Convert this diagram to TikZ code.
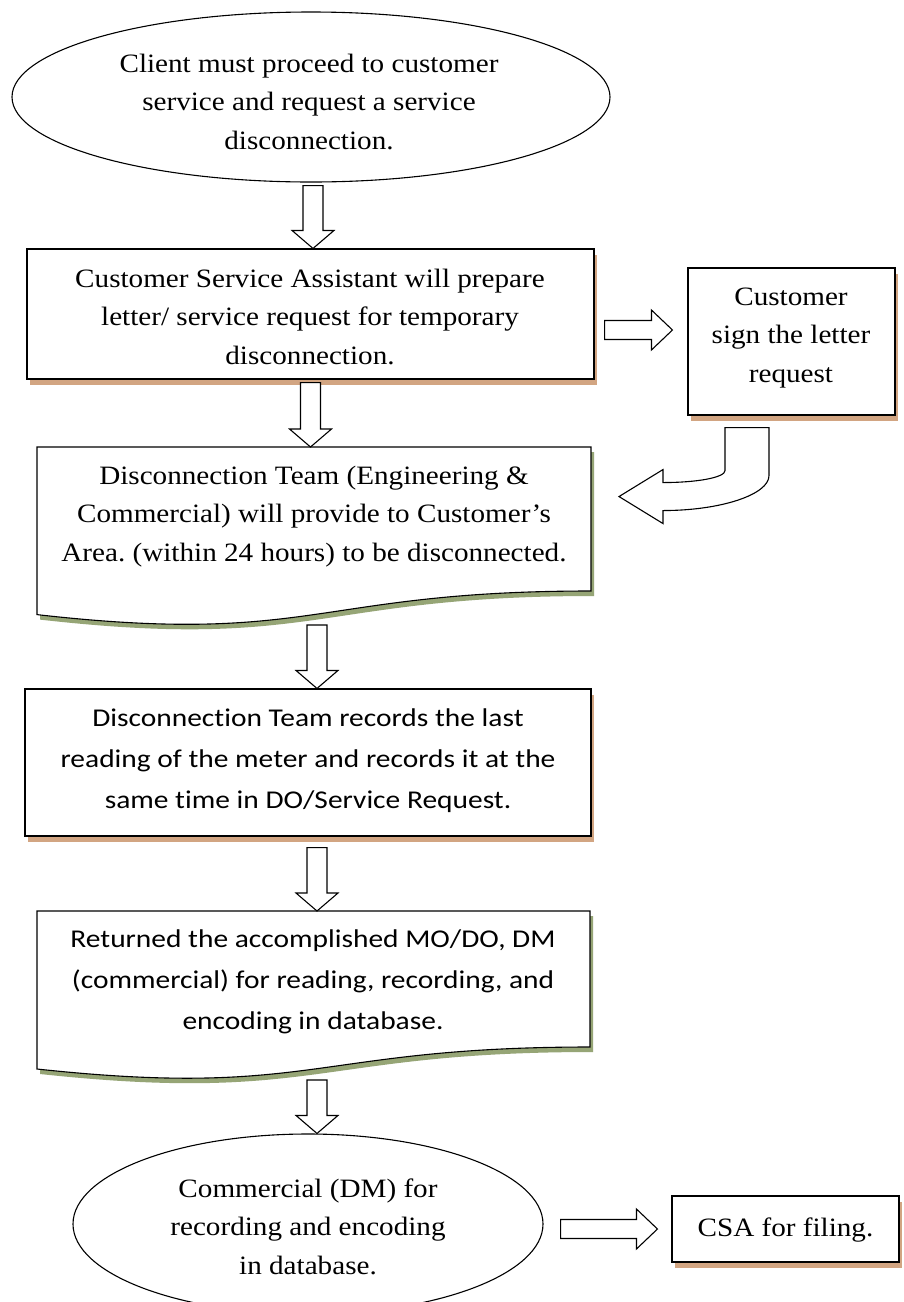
\documentclass[tikz,border=0pt]{standalone}
\usepackage{fontspec}
\setmainfont{Liberation Serif}[FakeStretch=1.1]
\newfontfamily\calfont{Carlito}[FakeStretch=1.15, Ligatures=NoCommon]
\usetikzlibrary{shapes.geometric,calc,shadows}
\frenchspacing
\definecolor{shadtan}{RGB}{210,165,130}
\definecolor{shadgreen}{RGB}{150,165,118}
\tikzset{
  box/.style={draw, line width=1.1pt, fill=white, inner sep=0,
    drop shadow={shadow xshift=3pt, shadow yshift=-6pt, fill=shadtan, opacity=1}},
  oval/.style={ellipse, draw, line width=1.1pt, fill=white, inner sep=0},
  ghost/.style={inner sep=0, outer sep=0},
  tbox/.style={inner sep=0, align=center, font=\frenchspacing\fontsize{26.5}{38.5}\selectfont},
  cbox/.style={inner sep=0, align=center, font=\frenchspacing\calfont\fontsize{25.6}{41}\selectfont},
  barrow/.style={draw, line width=1.1pt, fill=white, line join=miter},
  docline/.style={draw, line width=1.1pt, fill=white},
  docshadow/.style={fill=shadgreen}
}
\def\sw{10pt}\def\hw{21pt}\def\hl{18pt}
\newcommand\varrow[2]{\path[barrow] let \p1=(#1), \p2=(#2) in
  (\x1-\sw,\y1) -- (\x1-\sw,\y2+\hl) -- (\x1-\hw,\y2+\hl) -- (\x1,\y2) --
  (\x1+\hw,\y2+\hl) -- (\x1+\sw,\y2+\hl) -- (\x1+\sw,\y1) -- cycle;}
\newcommand\harrow[2]{\path[barrow] let \p1=(#1), \p2=(#2) in
  (\x1,\y1-9.5pt) -- (\x2-21pt,\y1-9.5pt) -- (\x2-21pt,\y1-20pt) -- (\x2,\y1) --
  (\x2-21pt,\y1+20pt) -- (\x2-21pt,\y1+9.5pt) -- (\x1,\y1+9.5pt) -- cycle;}
% document shape: left, top, right, y right bottom, y left bottom, y control
\newcommand\docshape[6]{%
  \fill[docshadow, shift={(3,5)}] (#1,#2) -- (#3,#2) -- (#3,#4) .. controls ({(#1+#3)/2},#4) and ({(#1+#3)/2},#6) .. (#1,#5) -- cycle;
  \path[docline] (#1,#2) -- (#3,#2) -- (#3,#4) .. controls ({(#1+#3)/2},#4) and ({(#1+#3)/2},#6) .. (#1,#5) -- cycle;}
\begin{document}
\begin{tikzpicture}[x=1pt,y=-1pt]
\useasboundingbox (0,0) rectangle (903,1302);
\clip (0,0) rectangle (903,1302);
\fill[white] (0,0) rectangle (903,1302);

% ---- shapes ----
\node[oval, minimum width=598pt, minimum height=170pt] (e1) at (311,97) {};
\node[box, minimum width=567pt, minimum height=130pt] (b2) at (310.5,314) {};
\node[box, minimum width=207pt, minimum height=147pt] (cust) at (791.5,341.5) {};

\docshape{37}{447}{591}{591}{614.6}{646}
\node[ghost, minimum width=554pt, minimum height=178pt] (b3) at (314,536) {};

\node[box, minimum width=566pt, minimum height=147pt] (b4) at (308,762.5) {};

\docshape{37}{911}{590}{1047}{1069}{1098.7}
\node[ghost, minimum width=553pt, minimum height=169pt] (b5) at (313.5,995.5) {};

\node[oval, minimum width=470pt, minimum height=180pt] (e2) at (308,1224) {};
\node[box, minimum width=227pt, minimum height=66pt] (csa) at (785.5,1229) {};

% ---- texts (anchor = baseline of the last line) ----
\node[tbox, anchor=base] (t1) at (309,149) {Client must proceed to customer\\service and request a service\\disconnection.};
\node[tbox, anchor=base] (t2) at (310,364) {Customer Service Assistant will prepare\\letter/ service request for temporary\\disconnection.};
\node[tbox, anchor=base] (tc) at (791,382) {Customer\\sign the letter\\request};
\node[tbox, anchor=base] (t3) at (314,561) {Disconnection Team (Engineering \&\\Commercial) will provide to Customer’s\\Area. (within 24 hours) to be disconnected.};
\node[cbox, anchor=base] (t4) at (308,808) {Disconnection Team records the last\\reading of the meter and records it at the\\same time in DO/Service Request.};
\node[cbox, anchor=base] (t5) at (313,1029) {Returned the accomplished MO/DO, DM\\(commercial) for reading, recording, and\\encoding in database.};
\node[tbox, anchor=base] (t6) at (308,1274) {Commercial (DM) for\\recording and encoding\\in database.};
\node[tbox, anchor=base] (t7) at (785.5,1236) {CSA for filing.};

% ---- block arrows ----
\varrow{$(e1.south)+(2,3)$}{b2.north}
\varrow{$(b2.south)+(0,3)$}{b3.north}
\varrow{$(b3.south)+(3,0)$}{b4.north}
\varrow{$(b4.south)+(9,11)$}{b5.north}
\varrow{$(b5.south)+(3.5,0)$}{e2.north}
\harrow{$(b2.east)+(10,16)$}{$(cust.west)+(-15,0)$}
\harrow{$(e2.east)+(17,5)$}{$(csa.west)+(-14,0)$}

% curved arrow from customer box back to box 3
\begin{scope}[shift={($(cust.south)+(-791.5,-415)$)}]
\path[barrow] (725,427) -- (769,427) -- (769,475)
  .. controls (769,494) and (721,510) .. (663,510)
  -- (663,523) -- (619,496) -- (663,469) -- (663,482)
  .. controls (697,482) and (725,477) .. (725,470) -- cycle;
\end{scope}
\end{tikzpicture}
\end{document}
